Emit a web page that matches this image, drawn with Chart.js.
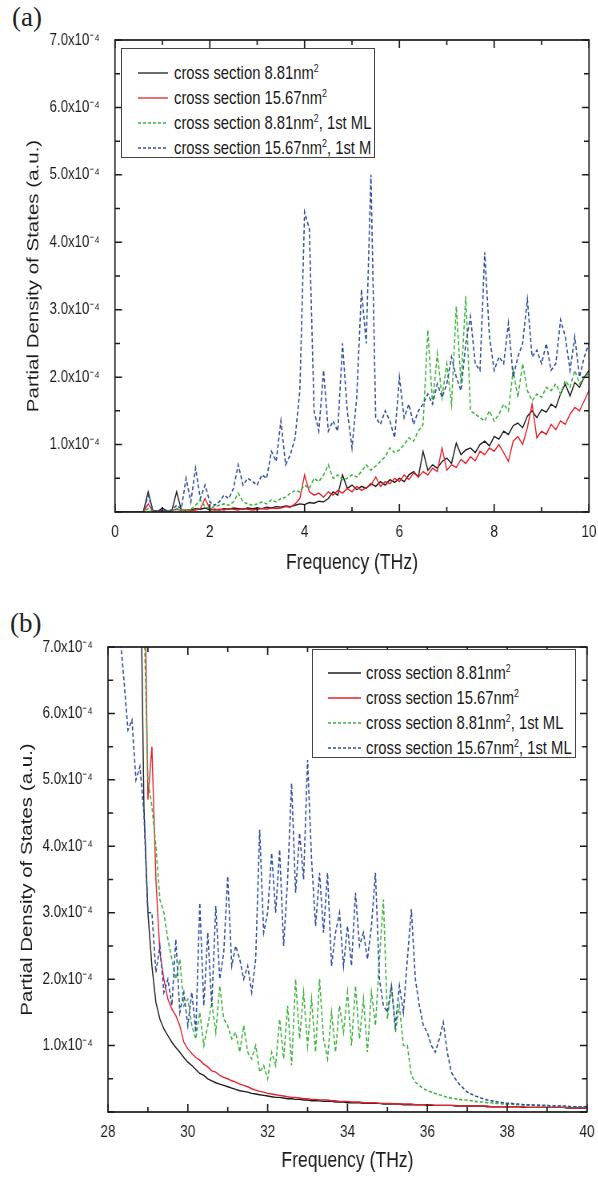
<!DOCTYPE html>
<html><head><meta charset="utf-8">
<script src="https://cdn.jsdelivr.net/npm/chart.js@4.4.1/dist/chart.umd.min.js"></script>
<style>
html,body{margin:0;padding:0;background:#fff;}
body{width:598px;height:1177px;position:relative;overflow:hidden;color:#1a1a1a;
 font-family:"Liberation Sans",Arial,sans-serif;}
.wrap{position:absolute;left:0;width:748px;transform:scaleX(0.8);transform-origin:0 0;}
.wrap canvas{display:block;}
.tag{position:absolute;font-family:"Liberation Serif","Times New Roman",serif;font-size:27px;line-height:1;color:#222;}
.legend{position:absolute;border:1px solid #444;background:#fff;box-sizing:border-box;}
.legend svg{position:absolute;overflow:visible;}
.legend .txt{position:absolute;font-size:18.5px;line-height:20px;white-space:nowrap;color:#1a1a1a;
 transform:scaleX(0.8);transform-origin:0 50%;}
.legend sup{font-size:11px;line-height:0;vertical-align:7px;}
</style>
</head>
<body>
<div class="tag" style="left:12px;top:4px;">(a)</div>
<div class="tag" style="left:10px;top:610px;">(b)</div>
<div class="wrap" style="top:0;height:590px;"><canvas id="ca" width="748" height="590"></canvas></div>
<div class="wrap" style="top:590px;height:587px;"><canvas id="cb" width="748" height="587"></canvas></div>
<div class="legend" id="la" style="left:121px;top:48px;width:254px;height:110px;"></div>
<div class="legend" id="lb" style="left:312px;top:649px;width:264px;height:109px;"></div>
<script>
// ---------- DATA (values in units of 1e-4 a.u.) ----------
// panel (a): frequency grid 0.0 .. 10.0 THz, step 0.1
const FREQ_A = Array.from({length:101}, (_, i) => i / 10);
const BLACK_A = [
 0,0,0,0,0,0,0.01,0.30,0.02,0.01,
 0.06,0.01,0.02,0.30,0.03,0.02,0.03,0.05,0.04,0.06,
 0.03,0.04,0.03,0.05,0.04,0.06,0.05,0.04,0.06,0.05,
 0.06,0.05,0.07,0.06,0.08,0.07,0.09,0.08,0.10,0.12,
 0.11,0.14,0.13,0.16,0.15,0.20,0.30,0.25,0.55,0.35,
 0.40,0.33,0.38,0.35,0.42,0.38,0.45,0.40,0.48,0.44,
 0.50,0.45,0.55,0.60,0.52,0.90,0.62,0.70,0.65,0.75,
 0.80,0.72,1.02,0.85,0.92,0.95,0.88,1.00,1.05,0.98,
 1.12,1.08,1.20,1.15,1.28,1.32,1.25,1.42,1.50,1.40,
 1.52,1.48,1.60,1.55,1.75,1.90,1.72,1.92,1.85,2.00,
 2.10];
const RED_A = [
 0,0,0,0,0,0,0,0.12,0.01,0.01,
 0.02,0.01,0.02,0.04,0.02,0.03,0.02,0.03,0.05,0.20,
 0.05,0.03,0.04,0.03,0.05,0.04,0.03,0.05,0.04,0.03,
 0.04,0.05,0.04,0.06,0.05,0.06,0.08,0.07,0.12,0.20,
 0.55,0.30,0.25,0.28,0.22,0.30,0.25,0.32,0.28,0.35,
 0.30,0.38,0.32,0.36,0.40,0.52,0.38,0.45,0.42,0.50,
 0.45,0.55,0.48,0.58,0.52,0.60,0.55,0.65,0.60,0.95,
 0.62,0.70,0.66,0.78,0.72,0.82,0.76,0.90,0.85,0.95,
 0.90,1.00,0.88,0.75,1.05,1.12,1.00,1.25,1.60,1.10,
 1.20,1.15,1.30,1.22,1.35,1.30,1.45,1.55,1.50,1.65,
 1.80];
const GREEN_A = [
 0,0,0,0,0,0,0,0.05,0.01,0,
 0,0.01,0.02,0.05,0.02,0.02,0.04,0.10,0.18,0.08,
 0.05,0.08,0.10,0.12,0.10,0.15,0.28,0.15,0.12,0.10,
 0.12,0.15,0.12,0.18,0.15,0.20,0.22,0.28,0.32,0.30,
 0.40,0.35,0.50,0.45,0.55,0.70,0.50,0.55,0.48,0.50,
 0.55,0.52,0.60,0.70,0.62,0.68,0.75,0.82,0.95,0.88,
 0.92,1.00,1.10,1.05,1.20,1.30,2.70,1.60,2.35,1.70,
 2.20,1.60,3.05,1.90,3.20,1.50,1.45,1.40,1.35,1.50,
 1.35,1.45,1.60,1.50,2.10,1.70,2.20,1.80,1.65,1.75,
 1.70,1.85,1.80,1.90,1.75,1.95,1.85,2.10,1.90,2.00,
 2.05];
const BLUE_A = [
 0,0,0,0,0,0,0,0.25,0.02,0.01,
 0.03,0.02,0.03,0.10,0.05,0.50,0.15,0.65,0.20,0.40,
 0.15,0.10,0.15,0.25,0.20,0.35,0.70,0.40,0.50,0.45,
 0.40,0.55,0.50,0.90,0.75,1.35,0.70,0.85,1.10,1.80,
 4.45,4.20,1.50,1.20,2.10,1.20,1.35,1.20,2.50,1.50,
 0.95,1.70,3.30,2.50,5.00,1.40,1.30,1.50,1.35,1.10,
 2.00,1.40,1.60,1.30,1.50,1.60,1.75,1.60,1.90,1.70,
 1.90,2.30,2.00,1.80,2.50,2.90,2.20,2.10,3.85,2.60,
 2.10,2.30,2.20,2.80,2.00,2.30,2.50,3.15,2.30,2.40,
 2.20,2.50,2.10,2.20,2.85,2.60,2.10,2.60,2.00,2.30,
 2.50];

// panel (b): frequency grid 28.0 .. 40.0 THz, step 0.1
const FREQ_B = Array.from({length:121}, (_, i) => Math.round(280 + i) / 10);
const BLACK_B = [
 null,null,null,null,null,null,null,null,9.0,4.60,
 3.00,2.20,1.65,1.40,1.25,1.15,1.05,0.97,0.90,0.82,
 0.75,0.70,0.64,0.58,0.55,0.50,0.47,0.44,0.42,0.40,
 0.38,0.36,0.34,0.32,0.31,0.30,0.28,0.27,0.26,0.25,
 0.24,0.23,0.22,0.22,0.21,0.20,0.20,0.19,0.19,0.18,
 0.18,0.17,0.17,0.17,0.16,0.16,0.16,0.15,0.15,0.15,
 0.14,0.14,0.14,0.14,0.13,0.13,0.13,0.13,0.13,0.12,
 0.12,0.12,0.12,0.12,0.11,0.11,0.11,0.11,0.11,0.11,
 0.10,0.10,0.10,0.10,0.10,0.10,0.10,0.09,0.09,0.09,
 0.09,0.09,0.09,0.09,0.09,0.08,0.08,0.08,0.08,0.08,
 0.08,0.08,0.08,0.08,0.07,0.07,0.07,0.07,0.07,0.07,
 0.07,0.07,0.07,0.07,0.07,0.06,0.06,0.06,0.06,0.06,
 0.06];
const RED_B = [
 null,null,null,null,null,null,null,null,9.0,9.0,
 4.70,5.50,3.50,2.40,2.00,1.70,1.55,1.45,1.30,1.05,
 0.95,0.88,0.82,0.78,0.72,0.68,0.62,0.60,0.55,0.52,
 0.50,0.47,0.45,0.42,0.40,0.38,0.35,0.33,0.31,0.30,
 0.28,0.27,0.26,0.25,0.24,0.23,0.22,0.22,0.21,0.20,
 0.20,0.19,0.19,0.18,0.18,0.18,0.17,0.17,0.16,0.16,
 0.16,0.15,0.15,0.15,0.14,0.14,0.14,0.14,0.13,0.13,
 0.13,0.13,0.12,0.12,0.12,0.12,0.12,0.11,0.11,0.11,
 0.11,0.11,0.10,0.10,0.10,0.10,0.10,0.10,0.09,0.09,
 0.09,0.09,0.09,0.09,0.09,0.09,0.08,0.08,0.08,0.08,
 0.08,0.08,0.08,0.08,0.08,0.07,0.07,0.07,0.07,0.07,
 0.07,0.07,0.07,0.07,0.07,0.07,0.06,0.06,0.06,0.06,
 0.06];
const GREEN_B = [
 null,null,null,null,null,null,null,null,null,7.50,
 5.00,4.60,4.00,3.20,3.00,2.60,2.30,2.00,2.30,1.60,
 1.70,1.30,1.10,1.50,1.00,1.30,1.65,1.20,1.90,1.40,
 1.30,1.10,1.20,0.90,1.30,0.90,0.80,1.00,0.60,0.70,
 0.50,0.90,0.70,1.40,0.80,1.60,0.70,2.00,1.10,1.80,
 1.00,1.70,0.90,2.00,1.10,0.80,1.50,0.90,1.60,1.20,
 1.80,1.00,1.90,1.10,1.70,0.90,1.80,1.30,2.30,3.20,
 1.40,1.90,1.20,1.60,1.00,1.00,0.55,0.45,0.40,0.35,
 0.32,0.30,0.28,0.26,0.24,0.22,0.21,0.20,0.19,0.18,
 0.18,0.17,0.16,0.15,0.15,0.14,0.14,0.13,0.13,0.12,
 0.12,0.12,0.11,0.11,0.11,0.10,0.10,0.10,0.10,0.09,
 0.09,0.09,0.09,0.09,0.08,0.08,0.08,0.08,0.08,0.08,
 0.08];
const BLUE_B = [
 null,null,9.00,7.20,6.50,5.75,5.90,5.00,5.20,4.50,
 3.00,3.00,2.10,2.50,1.80,2.00,1.60,2.60,1.50,1.80,
 1.30,1.80,1.20,3.15,1.60,2.70,1.60,3.10,2.00,2.40,
 3.55,2.20,2.50,2.30,2.00,2.20,1.80,2.30,4.25,2.70,
 3.00,3.90,3.00,3.95,2.50,3.50,4.95,3.30,4.20,3.50,
 5.30,3.80,2.80,3.60,2.70,3.60,2.20,2.70,3.00,2.20,
 2.80,2.20,3.30,2.50,2.70,2.30,2.80,3.60,2.00,1.60,
 1.50,1.90,1.30,1.90,1.50,2.30,3.05,2.00,1.60,1.30,
 1.20,1.00,0.90,1.10,1.35,0.90,0.60,0.50,0.42,0.36,
 0.30,0.27,0.24,0.22,0.20,0.18,0.17,0.16,0.15,0.14,
 0.13,0.13,0.12,0.12,0.11,0.11,0.11,0.10,0.10,0.10,
 0.10,0.09,0.09,0.09,0.09,0.09,0.08,0.08,0.08,0.08,
 0.08];

const LABELS_A = ['cross section 8.81nm<sup>2</sup>','cross section 15.67nm<sup>2</sup>',
 'cross section 8.81nm<sup>2</sup>, 1st ML','cross section 15.67nm<sup>2</sup>, 1st M'];
const LABELS_B = ['cross section 8.81nm<sup>2</sup>','cross section 15.67nm<sup>2</sup>',
 'cross section 8.81nm<sup>2</sup>, 1st ML','cross section 15.67nm<sup>2</sup>, 1st ML'];
const Y_TITLE = 'Partial Density of States (a.u.)';
const X_TITLE = 'Frequency (THz)';

// ---------- STYLE ----------
const SX = 0.8; // horizontal squeeze applied to the canvases (narrow lettering as in the original)
const STYLES = [
 {color:'#1c1c1c', dash:[], w:1.4},
 {color:'#e3202b', dash:[], w:1.4},
 {color:'#3cb43c', dash:[4,2.5], w:1.6},
 {color:'#2c4c9e', dash:[4,2.5], w:1.6}
];
const SANS = '"Liberation Sans",Arial,sans-serif';

function sets(freq, arrs){
  return arrs.map((arr, k) => ({
    data: freq.map((x, i) => ({x, y: arr[i]})),
    borderColor: STYLES[k].color, borderDash: STYLES[k].dash,
    borderWidth: STYLES[k].w, pointRadius: 0, fill: false, tension: 0, spanGaps: false
  })).reverse();
}

const framePlugin = {
  id: 'frame',
  afterDraw(chart){
    const {ctx, chartArea:a, scales:{x, y}} = chart;
    ctx.save();
    ctx.strokeStyle = '#1a1a1a';
    ctx.lineWidth = 1.7;
    ctx.strokeRect(a.left, a.top, a.right - a.left, a.bottom - a.top);
    ctx.beginPath();
    x.ticks.forEach(t => {
      const p = x.getPixelForValue(t.value);
      const L = (Math.round(t.value) % 2 === 0) ? 8 : 5;
      ctx.moveTo(p, a.bottom); ctx.lineTo(p, a.bottom - L);
      ctx.moveTo(p, a.top); ctx.lineTo(p, a.top + L);
    });
    ctx.stroke();
    ctx.lineWidth = 1.5;
    ctx.beginPath();
    y.ticks.forEach(t => {
      const p = y.getPixelForValue(t.value);
      const L = (Number.isInteger(t.value) ? 7 : 5) / SX;
      ctx.moveTo(a.left, p); ctx.lineTo(a.left + L, p);
      ctx.moveTo(a.right, p); ctx.lineTo(a.right - L, p);
    });
    ctx.stroke();
    ctx.restore();
  }
};

function opts(c){
  return {
    responsive:false, animation:false, events:[], devicePixelRatio:1,
    layout:{padding:{left:0, top:c.top, right:c.right, bottom:0}},
    plugins:{legend:{display:false}, tooltip:{enabled:false}},
    scales:{
      x:{type:'linear', min:c.xmin, max:c.xmax,
        afterFit: s => { s.height = c.xh; s.paddingLeft = 0; s.paddingRight = 0; },
        grid:{display:false, drawTicks:false}, border:{display:false},
        ticks:{stepSize:1, autoSkip:false, maxRotation:0, padding:c.xpad, color:'#1a1a1a',
          font:{family:SANS, size:17},
          callback: v => (Math.round(v) % 2 === 0 ? String(v) : '')},
        title:{display:true, text:X_TITLE, color:'#1a1a1a', font:{family:SANS, size:22},
          padding:{top:0, bottom:c.xtpb}}
      },
      y:{type:'linear', min:0, max:7,
        afterFit: s => { s.width = c.yw; s.paddingTop = 0; s.paddingBottom = 0; },
        grid:{display:false, drawTicks:false}, border:{display:false},
        ticks:{stepSize:0.5, autoSkip:false, padding:c.ypad, color:'#1a1a1a',
          font:{family:SANS, size:16.5},
          callback: v => (v > 0 && Number.isInteger(v) ? v.toFixed(1) + 'x10\u207B\u2074' : '')},
        title:{display:true, text:Y_TITLE, color:'#1a1a1a', font:{family:SANS, size:20.5},
          padding:{top:c.ytpt, bottom:0}}
      }
    }
  };
}

// canvas coordinates are CSS coordinates divided by SX horizontally
new Chart(document.getElementById('ca'), {
  type:'line',
  data:{datasets: sets(FREQ_A, [BLACK_A, RED_A, GREEN_A, BLUE_A])},
  options: opts({top:40, right:748 - 589 / SX, xmin:0, xmax:10, xh:78, xpad:10, xtpb:14,
    yw:115 / SX, ypad:19, ytpt:30}),
  plugins:[framePlugin]
});
new Chart(document.getElementById('cb'), {
  type:'line',
  data:{datasets: sets(FREQ_B, [BLACK_B, RED_B, GREEN_B, BLUE_B])},
  options: opts({top:57, right:748 - 587 / SX, xmin:28, xmax:40, xh:65, xpad:10, xtpb:3,
    yw:108 / SX, ypad:19, ytpt:22}),
  plugins:[framePlugin]
});

function legend(id, labels, rowTop, rowGap, sx0, sx1, tx){
  const box = document.getElementById(id);
  labels.forEach((lab, k) => {
    const cy = rowTop + k * rowGap;
    const svg = document.createElementNS('http://www.w3.org/2000/svg', 'svg');
    svg.setAttribute('width', sx1 - sx0); svg.setAttribute('height', 4);
    svg.style.left = sx0 + 'px'; svg.style.top = (cy - 2) + 'px';
    const ln = document.createElementNS('http://www.w3.org/2000/svg', 'line');
    ln.setAttribute('x1', 0); ln.setAttribute('x2', sx1 - sx0);
    ln.setAttribute('y1', 2); ln.setAttribute('y2', 2);
    ln.setAttribute('stroke', STYLES[k].color); ln.setAttribute('stroke-width', 1.3);
    if (STYLES[k].dash.length) ln.setAttribute('stroke-dasharray', '3 2');
    svg.appendChild(ln); box.appendChild(svg);
    const t = document.createElement('div');
    t.className = 'txt'; t.innerHTML = lab;
    t.style.left = tx + 'px'; t.style.top = (cy - 10) + 'px';
    box.appendChild(t);
  });
}
legend('la', LABELS_A, 24, 25, 16, 46, 52);
legend('lb', LABELS_B, 23, 25, 15, 48, 53);
</script>
</body></html>
